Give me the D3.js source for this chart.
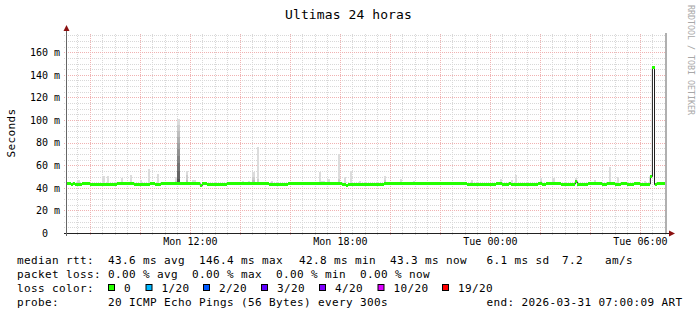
<!DOCTYPE html>
<html>
<head>
<meta charset="utf-8">
<script src="https://cdn.jsdelivr.net/npm/d3@7/dist/d3.min.js"></script>
<style>
  body { margin: 0; background: #fff; }
  text { font-family: "DejaVu Sans Mono", monospace; }
</style>
</head>
<body>
<div id="chart"></div>
<script>
// ---- data ----
const title = "Ultimas 24 horas";
const yLabel = "Seconds";
const watermark = "RRDTOOL / TOBI OETIKER";
const startTime = Date.UTC(2026, 2, 30, 7, 5);
const stepSeconds = 300;
const yMax = 177;
const yTickValues = [0, 20, 40, 60, 80, 100, 120, 140, 160];
const xLabelTimes = [
  Date.UTC(2026, 2, 30, 12),
  Date.UTC(2026, 2, 30, 18),
  Date.UTC(2026, 2, 31, 0),
  Date.UTC(2026, 2, 31, 6),
];

// median rtt in ms, one value per 5 min step, one row = 2 hours
const median = [
  43.6, 43.6, 42.9, 43.6, 42.9, 42.9, 42.9, 43.6, 43.6, 43.6, 43.6, 42.9, 42.9, 42.9, 42.9, 42.9, 42.9, 42.9, 42.9, 42.9, 42.9, 42.9, 42.9, 42.9,
  43.6, 43.6, 43.6, 43.6, 43.6, 43.6, 43.6, 43.6, 42.9, 42.9, 42.9, 42.9, 42.9, 42.9, 42.9, 42.9, 43.6, 43.6, 42.9, 42.9, 42.9, 43.6, 43.6, 43.6,
  43.6, 43.6, 43.6, 43.6, 43.6, 43.6, 43.6, 43.6, 43.6, 43.6, 43.6, 43.6, 43.6, 43.6, 43.6, 43.6, 42.0, 43.6, 43.6, 42.9, 42.9, 42.9, 42.9, 42.9,
  42.9, 42.9, 42.9, 42.9, 42.9, 43.6, 43.6, 43.6, 43.6, 43.6, 43.6, 43.6, 43.6, 43.6, 43.6, 43.6, 43.6, 43.6, 43.6, 43.6, 43.6, 43.6, 43.6, 43.6,
  43.6, 42.9, 42.9, 42.9, 42.9, 42.9, 42.9, 42.9, 42.9, 42.9, 43.6, 43.6, 43.6, 43.6, 43.6, 43.6, 43.6, 43.6, 43.6, 43.6, 43.6, 43.6, 43.6, 43.6,
  43.6, 43.6, 43.6, 43.6, 43.6, 43.6, 43.6, 43.6, 43.6, 43.6, 43.6, 43.6, 42.9, 42.9, 42.0, 42.9, 42.9, 42.9, 42.9, 42.9, 43.3, 43.3, 43.3, 43.3,
  43.3, 43.3, 43.3, 43.3, 43.3, 43.3, 43.3, 43.3, 43.6, 43.6, 43.6, 43.6, 43.6, 43.6, 43.6, 43.6, 43.6, 43.6, 43.6, 43.6, 43.6, 43.6, 43.6, 43.6,
  43.6, 43.6, 43.6, 43.6, 43.6, 43.6, 43.6, 43.6, 43.6, 43.6, 43.6, 43.6, 43.6, 43.6, 43.6, 43.6, 43.6, 43.6, 43.6, 43.6, 43.6, 43.6, 43.6, 43.6,
  43.3, 43.3, 43.3, 43.3, 43.3, 43.3, 43.3, 43.3, 43.3, 43.3, 43.3, 43.3, 43.3, 43.3, 44.0, 44.0, 44.0, 43.3, 43.3, 43.3, 44.0, 43.3, 43.3, 43.3,
  43.3, 43.3, 43.3, 43.3, 43.3, 43.3, 43.3, 43.3, 43.3, 43.3, 44.0, 44.0, 43.3, 43.3, 44.0, 44.0, 44.0, 44.0, 44.0, 44.0, 44.0, 43.3, 43.3, 43.3,
  43.3, 43.3, 43.3, 43.3, 45.3, 43.3, 43.3, 43.3, 43.3, 43.3, 44.0, 44.0, 44.0, 44.0, 44.0, 44.0, 44.0, 43.3, 43.3, 44.0, 44.0, 44.0, 44.0, 43.3,
  43.3, 43.3, 44.0, 44.0, 44.0, 43.3, 43.3, 43.3, 44.0, 44.0, 44.0, 43.3, 43.3, 43.3, 43.3, 43.3, 50.0, 146.4, 42.8, 44.0, 44.0, 44.0, 44.0, null,
];

// smoke: step index and the slower pings of that step (ms, high to low)
const smokeStep = [5, 17, 19, 26, 30, 35, 39, 43, 52, 53, 57, 60, 61, 84, 87, 89, 91, 98,
  121, 122, 123, 125, 130, 133, 136, 140, 152, 160, 166, 181, 194, 208, 213, 215,
  227, 233, 244, 253, 260, 264, 277];
const smokePings = [
  [46.5, 45.5], [50.7], [50.7], [49], [51], [47], [57], [52.5], [50, 46],
  [101, 96, 90, 85, 80, 74, 68, 62, 55, 48], [55, 51, 47], [47], [47], [46], [46],
  [53.6, 50, 47], [75.7, 48], [46, 45],
  [53.6], [45.7], [45.7], [48], [70, 48], [50], [55], [46], [50.7, 47], [48], [46],
  [45.5], [46.5, 45.5], [48], [46.5], [51.6],
  [48.7, 46], [49], [49], [47], [58], [50], [46],
];
const unknownSteps = [287];

const lossLabels = ["0", "1/20", "2/20", "3/20", "4/20", "10/20", "19/20"];
const lossColors = ["#26ff00", "#00b8ff", "#0059ff", "#5e00ff", "#7e00ff", "#dd00ff", "#ff0000"];
const rttStats = ["43.6 ms avg", "146.4 ms max", "42.8 ms min", "43.3 ms now", "6.1 ms sd", "7.2", "am/s"];
const lossStats = ["0.00 % avg", "0.00 % max", "0.00 % min", "0.00 % now"];
const probeText = "20 ICMP Echo Pings (56 Bytes) every 300s";
const endText = "end: 2026-03-31 07:00:09 ART";

// ---- layout ----
const width = 697;
const height = 315;
const plot = { left: 67, right: 667, top: 33, bottom: 233 };
const rttX = [108, 199, 299, 390, 486.5, 562, 605];
const lossX = [108, 192, 276, 360];
const swatchX = [108.5, 146, 203.5, 261.5, 319.5, 378, 442.5];
const legendRows = [264, 277.5, 291.5, 305.5];
const monoStyle = (sel, size, spacing) =>
  sel.attr("font-size", size).attr("letter-spacing", spacing).style("white-space", "pre");

const svg = d3
  .select("#chart")
  .append("svg")
  .attr("width", width)
  .attr("height", height)
  .style("display", "block")
  .style("background", "#fff");

const stepTime = (i) => new Date(startTime + i * stepSeconds * 1000);

const xScale = d3
  .scaleUtc()
  .domain([new Date(startTime), stepTime(288)])
  .range([plot.left, plot.right]);
const yScale = d3.scaleLinear().domain([0, yMax]).range([plot.bottom, plot.top]);

// grid, minor then major (rrdtool style 1 on / 1 off dots)
const gridV = (every, color) =>
  svg
    .append("g")
    .attr("shape-rendering", "crispEdges")
    .attr("transform", `translate(0, ${plot.bottom + 2})`)
    .call(d3.axisBottom(xScale).ticks(every).tickSize(-(plot.bottom + 2 - plot.top)).tickFormat(""))
    .call((g) => g.select(".domain").remove())
    .call((g) => g.selectAll("line").attr("stroke", color).attr("stroke-dasharray", "1,1"));
const gridH = (values, color) =>
  svg
    .append("g")
    .attr("shape-rendering", "crispEdges")
    .attr("transform", `translate(${plot.left - 3}, 0)`)
    .call(d3.axisRight(yScale).tickValues(values).tickSize(plot.right - plot.left + 3).tickFormat(""))
    .call((g) => g.select(".domain").remove())
    .call((g) => g.selectAll("line").attr("stroke", color).attr("stroke-dasharray", "1,1"));

gridV(d3.utcMinute.every(30), "#d8d8d8");
gridH(d3.range(5, yMax, 5), "#d8d8d8");
gridV(d3.utcHour.every(2), "#f0b2b2");
gridH(d3.range(20, yMax, 20), "#f0b2b2");

// smoke
const smokeLayers = smokeStep.flatMap((s, j) =>
  smokePings[j].map((p, k) => ({ s, p, k }))
);
const grey = (k) => {
  const v = 220 - k * 15;
  return `rgb(${v},${v},${v})`;
};
svg
  .append("g")
  .attr("shape-rendering", "crispEdges")
  .selectAll("rect")
  .data(smokeLayers)
  .join("rect")
  .attr("x", (d) => xScale(stepTime(d.s)))
  .attr("width", (d) => xScale(stepTime(d.s + 1)) - xScale(stepTime(d.s)))
  .attr("y", (d) => yScale(d.p))
  .attr("height", (d) => yScale(median[d.s]) - yScale(d.p))
  .attr("fill", (d) => grey(d.k));

// unknown data
svg
  .append("g")
  .attr("shape-rendering", "crispEdges")
  .selectAll("rect")
  .data(unknownSteps)
  .join("rect")
  .attr("x", (d) => xScale(stepTime(d)))
  .attr("width", (d) => xScale(stepTime(d + 1)) - xScale(stepTime(d)))
  .attr("y", plot.top)
  .attr("height", plot.bottom - plot.top)
  .attr("fill", "#b0b0b0");

// median as a step line, then the loss coloured band over it
const stepPoints = median.flatMap((v, i) =>
  v == null ? [] : [{ t: stepTime(i), v }, { t: stepTime(i + 1), v }]
);
const line = d3
  .line()
  .x((d) => xScale(d.t))
  .y((d) => yScale(d.v));
svg
  .append("path")
  .attr("fill", "none")
  .attr("stroke", "#202020")
  .attr("stroke-width", 1)
  .attr("d", line(stepPoints));

const band = d3
  .area()
  .x((d) => xScale(d.t))
  .y0((d) => yScale(d.v) + 1.5)
  .y1((d) => yScale(d.v) - 1.5);
svg
  .append("path")
  .attr("fill", lossColors[0])
  .attr("shape-rendering", "crispEdges")
  .attr("d", band(stepPoints));

// axes
svg
  .append("line")
  .attr("x1", plot.left - 3)
  .attr("x2", plot.right + 3)
  .attr("y1", plot.bottom + 0.5)
  .attr("y2", plot.bottom + 0.5)
  .attr("stroke", "#222");
svg
  .append("line")
  .attr("x1", plot.left - 0.5)
  .attr("x2", plot.left - 0.5)
  .attr("y1", plot.bottom + 3)
  .attr("y2", plot.top - 4)
  .attr("stroke", "#666");
svg
  .append("path")
  .attr("d", `M${plot.left - 3.5},${plot.top - 2} L${plot.left + 2.5},${plot.top - 2} L${plot.left - 0.5},${plot.top - 8} Z`)
  .attr("fill", "#8b1010");
svg
  .append("path")
  .attr("d", `M${plot.right + 2},${plot.bottom - 2.5} L${plot.right + 2},${plot.bottom + 3.5} L${plot.right + 8},${plot.bottom + 0.5} Z`)
  .attr("fill", "#8b1010");

const yAxis = svg
  .append("g")
  .attr("transform", `translate(${plot.left}, 0)`)
  .call(
    d3
      .axisLeft(yScale)
      .tickValues(yTickValues)
      .tickSize(0)
      .tickPadding(7)
      .tickFormat((d) => (d === 0 ? "0  " : `${d} m`))
  );
yAxis.select(".domain").remove();
yAxis
  .selectAll("text")
  .attr("font-family", "DejaVu Sans Mono")
  .attr("fill", "#000")
  .call(monoStyle, 10, 0);

const xAxis = svg
  .append("g")
  .attr("transform", `translate(0, ${plot.bottom})`)
  .call(
    d3
      .axisBottom(xScale)
      .tickValues(xLabelTimes.map((t) => new Date(t)))
      .tickSize(0)
      .tickPadding(5)
      .tickFormat(d3.utcFormat("%a %H:%M"))
  );
xAxis.select(".domain").remove();
xAxis
  .selectAll("text")
  .attr("font-family", "DejaVu Sans Mono")
  .attr("fill", "#000")
  .call(monoStyle, 10, 0);

// titles
svg
  .append("text")
  .attr("x", width / 2)
  .attr("y", 18.5)
  .attr("text-anchor", "middle")
  .call(monoStyle, 13, 0.1)
  .text(title);
svg
  .append("text")
  .attr("transform", `translate(14.5, ${(plot.top + plot.bottom) / 2}) rotate(-90)`)
  .attr("text-anchor", "middle")
  .call(monoStyle, 11, 0.38)
  .text(yLabel);
svg
  .append("text")
  .attr("transform", "translate(687.5, 5) rotate(90)")
  .attr("fill", "#a8a8a8")
  .call(monoStyle, 8.3, 0)
  .text(watermark);

// legend
const legend = svg.append("g").attr("fill", "#000");
const row = (y, label, items, xs) => {
  legend.append("text").attr("x", 17).attr("y", y).call(monoStyle, 11, 0.38).text(label);
  items.forEach((t, i) =>
    legend.append("text").attr("x", xs[i]).attr("y", y).call(monoStyle, 11, 0.38).text(t)
  );
};
row(legendRows[0], "median rtt:", rttStats, rttX);
row(legendRows[1], "packet loss:", lossStats, lossX);
row(legendRows[2], "loss color:", lossLabels, swatchX.map((x) => x + 15.5));
row(legendRows[3], "probe:", [probeText, endText], [108, 486.5]);

legend
  .selectAll("rect")
  .data(lossColors)
  .join("rect")
  .attr("x", (d, i) => swatchX[i])
  .attr("y", legendRows[2] - 7)
  .attr("width", 6)
  .attr("height", 6)
  .attr("fill", (d) => d)
  .attr("stroke", "#000")
  .attr("stroke-width", 1);
</script>
</body>
</html>
